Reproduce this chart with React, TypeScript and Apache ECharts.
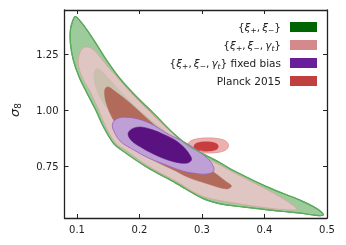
import React, { useEffect, useRef } from "react";
import * as echarts from "echarts";

const xTicks = [0.1, 0.2, 0.3, 0.4, 0.5];
const yTicks = [0.75, 1.0, 1.25];
const xRange = [0.08, 0.5];
const yRange = [0.519, 1.449];

// {xi+, xi-} outer (95%) contour, [Omega_m, sigma_8]
const xiOuter = [
  [0.0972, 1.42], [0.1066, 1.395], [0.1159, 1.36], [0.13, 1.301], [0.1472, 1.225],
  [0.1706, 1.136], [0.1956, 1.06], [0.2222, 0.988], [0.2488, 0.912], [0.2769, 0.845],
  [0.3003, 0.807], [0.3269, 0.769], [0.3519, 0.729], [0.405, 0.657], [0.4566, 0.599],
  [0.4847, 0.559], [0.4941, 0.532], [0.48, 0.532], [0.4566, 0.541], [0.43, 0.548],
  [0.405, 0.555], [0.3675, 0.568], [0.3316, 0.581], [0.3003, 0.608], [0.2581, 0.675],
  [0.2113, 0.747], [0.1691, 0.827], [0.1581, 0.854], [0.1425, 0.926], [0.13, 1.002],
  [0.1159, 1.078], [0.1034, 1.149], [0.0941, 1.225], [0.0894, 1.301], [0.0894, 1.36],
  [0.0925, 1.395],
];
// {xi+, xi-} inner (68%) contour
const xiInner = [
  [0.13, 1.185], [0.1378, 1.181], [0.1503, 1.145], [0.1675, 1.091], [0.1909, 1.024],
  [0.2222, 0.948], [0.2534, 0.868], [0.2378, 0.823], [0.1753, 0.935], [0.1441, 1.024],
  [0.1316, 1.091], [0.1269, 1.145],
];
// {xi+, xi-, gamma_t} outer contour
const gtOuter = [
  [0.1144, 1.284], [0.1222, 1.279], [0.1316, 1.257], [0.1472, 1.203], [0.1738, 1.118],
  [0.1988, 1.042], [0.2253, 0.97], [0.2519, 0.899], [0.2784, 0.832], [0.3019, 0.792],
  [0.3284, 0.756], [0.3519, 0.72], [0.405, 0.644], [0.4331, 0.599], [0.4519, 0.559],
  [0.4409, 0.555], [0.405, 0.564], [0.3519, 0.586], [0.3003, 0.617], [0.2581, 0.684],
  [0.2113, 0.756], [0.1753, 0.827], [0.1628, 0.85], [0.1472, 0.921], [0.1347, 1.002],
  [0.1222, 1.078], [0.1081, 1.149], [0.1019, 1.212], [0.105, 1.261], [0.1097, 1.279],
];
// {xi+, xi-, gamma_t} inner contour
const gtInner = [
  [0.1456, 1.1], [0.1503, 1.105], [0.1581, 1.091], [0.1847, 1.033], [0.2097, 0.97],
  [0.2456, 0.881], [0.2847, 0.792], [0.3206, 0.72], [0.3394, 0.68], [0.3472, 0.662],
  [0.3394, 0.649], [0.3097, 0.671], [0.2769, 0.702], [0.2581, 0.729], [0.2222, 0.778],
  [0.1909, 0.836], [0.1722, 0.899], [0.1566, 0.966], [0.1472, 1.029], [0.1441, 1.073],
];
// fixed bias outer contour
const fbOuter = [
  [0.1566, 0.939], [0.1628, 0.961], [0.1753, 0.97], [0.1988, 0.961], [0.2222, 0.935],
  [0.2456, 0.894], [0.2691, 0.863], [0.2956, 0.816], [0.3128, 0.774], [0.3191, 0.742],
  [0.3175, 0.725], [0.3081, 0.716], [0.2956, 0.716], [0.2691, 0.729], [0.2425, 0.756],
  [0.2144, 0.787], [0.1909, 0.823], [0.1706, 0.859], [0.1597, 0.903],
];
// fixed bias inner contour
const fbInner = [
  [0.1816, 0.8945], [0.1878, 0.917], [0.2019, 0.926], [0.2222, 0.912], [0.2378, 0.894],
  [0.2566, 0.868], [0.2722, 0.832], [0.2816, 0.796], [0.2831, 0.778], [0.2769, 0.765],
  [0.2644, 0.765], [0.2456, 0.778], [0.2222, 0.805], [0.2019, 0.836], [0.1878, 0.863],
];
// Planck 2015 contours
const plOuter = [
  [0.2769, 0.843], [0.2816, 0.863], [0.2941, 0.874], [0.3097, 0.877], [0.3253, 0.874],
  [0.3378, 0.863], [0.3425, 0.843], [0.3378, 0.823], [0.3253, 0.812], [0.3097, 0.8095],
  [0.2941, 0.812], [0.2816, 0.823],
];
const plInner = [
  [0.287, 0.8386], [0.2909, 0.853], [0.3066, 0.8596], [0.3222, 0.853], [0.3261, 0.8386],
  [0.3222, 0.824], [0.3066, 0.8176], [0.2909, 0.824],
];

const legendNames = ["xi", "gt", "fb", "planck"];
const legendLabels: Record<string, string> = {
  xi: "{{i|ξ}{s|+},\u2009{i|ξ}{s|−}}",
  gt: "{{i|ξ}{s|+},\u2009{i|ξ}{s|−},\u2009{i|γ}{si|t}}",
  fb: "{{i|ξ}{s|+},\u2009{i|ξ}{s|−},\u2009{i|γ}{si|t}} fixed bias",
  planck: "Planck 2015",
};
const legendColors: Record<string, string> = {
  xi: "#006400",
  gt: "#d48a8a",
  fb: "#6a1f9a",
  planck: "#c04040",
};

function poly(name: string, pts: number[][], fill: string, stroke: string, lw: number) {
  return {
    type: "custom",
    name,
    coordinateSystem: "cartesian2d",
    data: pts,
    encode: { x: 0, y: 1 },
    itemStyle: { color: legendColors[name] },
    silent: true,
    renderItem: (params: any, api: any) => {
      if (params.dataIndex !== 0) return null;
      const points = pts.map((p) => api.coord(p));
      return {
        type: "polygon",
        shape: { points, smooth: 0.35 },
        style: { fill, stroke, lineWidth: lw },
      };
    },
  };
}

const axisFont = { fontFamily: "DejaVu Sans", fontSize: 10, color: "#222" };

export default function App() {
  const ref = useRef<HTMLDivElement>(null);
  useEffect(() => {
    if (!ref.current) return;
    const chart = echarts.init(ref.current, null, { renderer: "svg" });
    const lineStyle = { color: "#222", width: 1.3 };
    const xBase = {
      type: "value",
      min: xRange[0],
      max: xRange[1],
      axisLine: { show: true, onZero: false, lineStyle },
      axisTick: { show: true, inside: true, length: 4, customValues: xTicks, lineStyle: { color: "#222" } },
      splitLine: { show: false },
    };
    const yBase = {
      type: "value",
      min: yRange[0],
      max: yRange[1],
      axisLine: { show: true, onZero: false, lineStyle },
      axisTick: { show: true, inside: true, length: 4, customValues: yTicks, lineStyle: { color: "#222" } },
      splitLine: { show: false },
    };
    const sub = { fontFamily: "DejaVu Sans", fontSize: 7.5, lineHeight: 9, verticalAlign: "bottom" };
    chart.setOption({
      animation: false,
      grid: { left: 59, right: 19, top: 10, bottom: 27 },
      xAxis: [
        {
          ...xBase,
          position: "bottom",
          axisLabel: { ...axisFont, margin: 6, customValues: xTicks, formatter: (v: number) => v.toFixed(1) },
        },
        { ...xBase, position: "top", axisLabel: { show: false } },
      ],
      yAxis: [
        {
          ...yBase,
          position: "left",
          axisLabel: { ...axisFont, margin: 6, customValues: yTicks, formatter: (v: number) => v.toFixed(2) },
          name: "{i|σ}{s|8}",
          nameLocation: "middle",
          nameGap: 42,
          nameRotate: 90,
          nameTextStyle: {
            padding: [0, 0, 0, 8],
            rich: {
              i: { fontFamily: "DejaVu Sans", fontStyle: "italic", fontSize: 13, lineHeight: 16, color: "#222" },
              s: { fontFamily: "DejaVu Sans", fontSize: 9, lineHeight: 10, verticalAlign: "bottom", color: "#222" },
            },
          },
        },
        { ...yBase, position: "right", axisLabel: { show: false } },
      ],
      legend: {
        data: legendNames,
        orient: "vertical",
        align: "right",
        right: 29,
        top: 20,
        padding: 0,
        itemWidth: 27,
        itemHeight: 10,
        itemGap: 4,
        icon: "rect",
        selectedMode: false,
        formatter: (n: string) => legendLabels[n],
        textStyle: {
          fontFamily: "DejaVu Sans",
          fontSize: 10.5,
          color: "#222",
          lineHeight: 14,
          padding: [0, 4, 0, 0],
          rich: {
            i: { fontFamily: "DejaVu Sans", fontStyle: "italic", fontSize: 10.5, lineHeight: 14, color: "#222" },
            s: { ...sub, color: "#222" },
            si: { ...sub, fontStyle: "italic", color: "#222" },
          },
        },
      },
      series: [
        poly("xi", xiOuter, "#9dcb9c", "#5da95d", 1.2),
        poly("gt", gtOuter, "#dfc6c2", "#d9a3a0", 0.8),
        poly("xi", xiInner, "#cbbfae", "#cbbfae", 0.5),
        poly("gt", gtInner, "#b26b5b", "#b26b5b", 0.5),
        poly("planck", plOuter, "#ecb0b0", "#e08f8f", 0.8),
        poly("planck", plInner, "#c83e3e", "#c83e3e", 0.5),
        poly("fb", fbOuter, "#bea0d6", "#9a5fc0", 0.8),
        poly("fb", fbInner, "#5b1281", "#5b1281", 0.5),
        poly("xi", xiOuter, "none", "#5da95d", 1.2),
      ],
    });
    return () => chart.dispose();
  }, []);
  return <div ref={ref} style={{ position: "fixed", left: 0, top: 0, width: 346, height: 245 }} />;
}
